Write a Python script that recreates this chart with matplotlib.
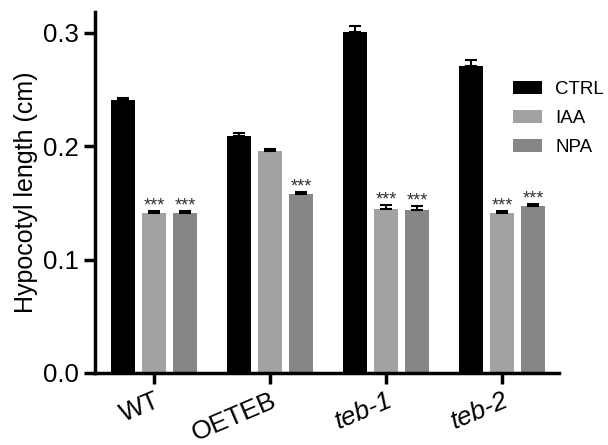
import matplotlib
matplotlib.use("Agg")
import matplotlib.pyplot as plt
import numpy as np

plt.rcParams['font.family'] = ['Liberation Sans', 'DejaVu Sans']

groups = ["WT", "OETEB", "teb-1", "teb-2"]
series = ["CTRL", "IAA", "NPA"]
ctrl = [0.241, 0.209, 0.301, 0.271]
iaa = [0.141, 0.196, 0.145, 0.141]
npa = [0.141, 0.158, 0.144, 0.147]
ctrl_err = [0.002, 0.003, 0.005, 0.005]
iaa_err = [0.002, 0.002, 0.003, 0.002]
npa_err = [0.002, 0.002, 0.003, 0.002]
stars_iaa = ["***", "", "***", "***"]
stars_npa = ["***", "***", "***", "***"]

colors = ["#000000", "#a2a2a2", "#868686"]

fig = plt.figure(figsize=(6.08, 4.45), dpi=100)
ax = fig.add_axes([95/608, 1-373/445, (559-95)/608, (373-12)/445])

x = np.arange(len(groups))
step = 0.267
width = 0.207
vals = [ctrl, iaa, npa]
errs = [ctrl_err, iaa_err, npa_err]
stars = [None, stars_iaa, stars_npa]
for i, (v, e, c, name) in enumerate(zip(vals, errs, colors, series)):
    xs = x + (i-1)*step
    ax.bar(xs, v, width=width, color=c, label=name, zorder=2)
    ax.errorbar(xs, v, yerr=[np.zeros(len(e)), e], fmt='none', ecolor='black',
                elinewidth=1.5, capsize=4, capthick=1.5, zorder=3)
    if stars[i] is not None:
        for xi, vi, ei, s in zip(xs, v, e, stars[i]):
            if s:
                ax.text(xi, vi+ei+0.0005, s, ha='center', va='baseline', fontsize=13, color='#333333')

ax.set_xlim(-0.51, 3.49)
ax.set_ylim(0, 0.3185)
ax.set_yticks([0.0, 0.1, 0.2, 0.3])
ax.set_yticklabels(["0.0", "0.1", "0.2", "0.3"])
ax.set_xticks(x)
ax.set_xticklabels(groups, rotation=23, ha='right', rotation_mode='anchor')
for lab in ax.get_xticklabels():
    lab.set_fontsize(19)
    if lab.get_text().startswith("teb"):
        lab.set_fontstyle('italic')
ax.tick_params(axis='y', labelsize=18.5)
ax.tick_params(axis='both', width=2.5, length=8, direction='out')
ax.tick_params(axis='x', pad=3)
ax.set_ylabel("Hypocotyl length (cm)", fontsize=18, labelpad=4)
for s in ['top', 'right']:
    ax.spines[s].set_visible(False)
for s in ['left', 'bottom']:
    ax.spines[s].set_linewidth(2.5)

leg = ax.legend(loc='upper left', bbox_to_anchor=(513/608, 1-81/445), bbox_transform=fig.transFigure,
                frameon=False, fontsize=13.5, handlelength=1.55, handleheight=0.7,
                handletextpad=0.7, labelspacing=0.62, borderpad=0, borderaxespad=0)

fig.savefig("out.png", dpi=100)
